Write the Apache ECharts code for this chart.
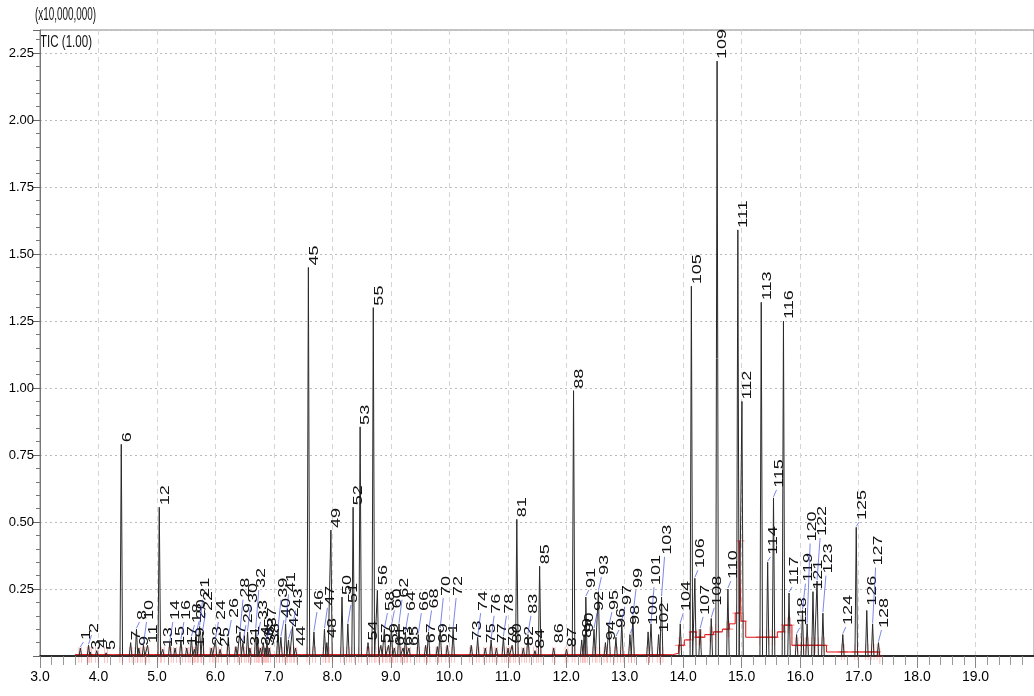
<!DOCTYPE html>
<html>
<head>
<meta charset="utf-8">
<script src="https://cdn.jsdelivr.net/npm/echarts@6/dist/echarts.min.js"></script>
<style>
  html, body { margin: 0; padding: 0; background: #fff; }
  #chart { width: 1034px; height: 696px; }
</style>
</head>
<body>
<div id="chart"></div>
<script>
// Total ion chromatogram: retention time (min) and apex intensity (x10,000,000) for peaks 1..128
const peakTime = [
  3.69, 3.83, 3.86, 3.97, 4.13, 4.39, 4.55, 4.65, 4.69, 4.77,
  4.84, 5.04, 5.10, 5.22, 5.31, 5.41, 5.51, 5.59, 5.64, 5.67,
  5.73, 5.78, 5.93, 6.00, 6.08, 6.22, 6.35, 6.42, 6.47, 6.55,
  6.59, 6.69, 6.72, 6.77, 6.82, 6.85, 6.88, 6.92, 7.07, 7.12,
  7.20, 7.25, 7.32, 7.37, 7.59, 7.685, 7.865, 7.905, 7.975, 8.165,
  8.265, 8.355, 8.475, 8.61, 8.70, 8.77, 8.83, 8.89, 8.96, 9.01,
  9.06, 9.14, 9.21, 9.25, 9.31, 9.47, 9.595, 9.645, 9.795, 9.845,
  9.965, 10.065, 10.375, 10.485, 10.615, 10.715, 10.805, 10.925, 11.005, 11.075,
  11.155, 11.265, 11.345, 11.465, 11.545, 11.785, 12.005, 12.125, 12.265, 12.305,
  12.335, 12.475, 12.55, 12.67, 12.73, 12.85, 12.95, 13.09, 13.14, 13.40,
  13.45, 13.58, 13.63, 13.95, 14.14, 14.20, 14.29, 14.48, 14.58, 14.765,
  14.935, 15.005, 15.335, 15.445, 15.545, 15.715, 15.81, 15.94, 16.04, 16.12,
  16.22, 16.29, 16.39, 16.73, 16.96, 17.14, 17.24, 17.34
];
const peakHeight = [
  0.030, 0.040, 0.015, 0.020, 0.012, 0.790, 0.050, 0.100, 0.030, 0.040,
  0.040, 0.555, 0.025, 0.050, 0.030, 0.060, 0.030, 0.070, 0.025, 0.080,
  0.110, 0.090, 0.030, 0.060, 0.025, 0.070, 0.035, 0.090, 0.050, 0.090,
  0.030, 0.100, 0.070, 0.030, 0.050, 0.030, 0.060, 0.030, 0.100, 0.070,
  0.120, 0.060, 0.110, 0.030, 1.450, 0.090, 0.100, 0.050, 0.470, 0.220,
  0.120, 0.555, 0.855, 0.050, 1.300, 0.245, 0.040, 0.100, 0.040, 0.110,
  0.030, 0.120, 0.030, 0.090, 0.030, 0.080, 0.040, 0.090, 0.035, 0.100,
  0.040, 0.100, 0.040, 0.070, 0.030, 0.060, 0.030, 0.070, 0.030, 0.040,
  0.510, 0.030, 0.080, 0.020, 0.335, 0.030, 0.025, 0.990, 0.060, 0.080,
  0.220, 0.100, 0.240, 0.050, 0.110, 0.070, 0.130, 0.080, 0.150, 0.090,
  0.120, 0.080, 0.220, 0.120, 1.380, 0.290, 0.100, 0.140, 2.220, 0.250,
  1.590, 0.950, 1.320, 0.350, 0.590, 1.250, 0.235, 0.080, 0.170, 0.120,
  0.240, 0.280, 0.160, 0.080, 0.480, 0.170, 0.120, 0.050
];
// Integration baseline (steps) under the late-eluting cluster
const baseTime  = [3.60, 13.82, 13.92, 14.02, 14.12, 14.22, 14.37, 14.52, 14.67, 14.79, 14.89, 14.96, 14.99, 15.07, 15.61, 15.72, 15.86, 16.35, 16.45, 17.35];
const baseLevel = [0.005, 0.010, 0.040, 0.060, 0.090, 0.070, 0.080, 0.090, 0.100, 0.120, 0.160, 0.430, 0.130, 0.070, 0.090, 0.115, 0.040, 0.040, 0.015, 0.000];

// Layout: height at which each peak number is written (null = right above the apex)
const labelBase = [
  0.052, 0.078, 0.015, 0.022, 0.015, null, 0.040, 0.127, 0.020, 0.127,
  0.030, null, 0.022, 0.127, 0.022, 0.127, 0.022, 0.115, 0.015, 0.130,
  0.210, 0.160, 0.022, 0.127, 0.022, 0.134, 0.030, 0.210, 0.115, 0.190,
  0.022, 0.246, 0.127, 0.030, 0.060, 0.020, 0.100, 0.040, 0.210, 0.134,
  0.230, 0.100, 0.170, 0.030, null, 0.164, 0.180, 0.060, null, 0.216,
  0.190, null, null, 0.030, null, 0.257, 0.022, 0.160, 0.030, 0.170,
  0.030, 0.210, 0.022, 0.160, 0.022, 0.160, 0.040, 0.170, 0.040, 0.216,
  0.040, 0.216, 0.050, 0.160, 0.040, 0.150, 0.040, 0.150, 0.020, 0.040,
  null, 0.020, 0.150, 0.020, null, 0.040, 0.020, null, 0.060, 0.070,
  0.246, 0.160, 0.295, 0.050, 0.164, 0.097, 0.183, 0.108, 0.246, 0.108,
  0.257, 0.078, 0.370, 0.160, null, 0.320, 0.146, 0.180, null, 0.280,
  null, null, null, 0.370, 0.620, null, 0.257, 0.105, 0.270, 0.420,
  0.160, 0.440, 0.300, 0.108, 0.500, 0.180, 0.330, 0.097
];

const X_MIN = 3, X_MAX = 20, Y_MAX = 2.336;
const HALF_WIDTH = 0.022; // drawn half-width of a peak at its foot (min)
const SANS = '"Liberation Sans", Arial, sans-serif';

// chromatogram trace, peaks in elution order
const order = peakTime.map((t, i) => i).sort((a, b) => peakTime[a] - peakTime[b]);
const trace = [[X_MIN, 0]];
order.forEach(i => {
  const t = peakTime[i];
  trace.push([t - HALF_WIDTH, 0], [t, peakHeight[i]], [t + HALF_WIDTH, 0]);
});
trace.push([X_MAX, 0]);

function baseAt(t) {
  let v = 0;
  for (let k = 0; k < baseTime.length; k++) if (baseTime[k] <= t) v = baseLevel[k];
  return v;
}
const marks = [];
peakTime.forEach(t => {
  marks.push([t - 0.024, baseAt(t - 0.024)]);
  marks.push([t + 0.024, baseAt(t + 0.024)]);
});
const baseLine = baseTime.map((t, k) => [t, baseLevel[k]]);

const tagData = peakTime.map((t, i) => [t, peakHeight[i], labelBase[i] == null ? peakHeight[i] : labelBase[i], i + 1]);

function renderTag(params, api) {
  const t = api.value(0), h = api.value(1);
  const b = Math.max(h, api.value(2));
  const top = api.coord([t, h]);
  const base = api.coord([t, b]);
  const kids = [];
  if (top[1] - base[1] > 5) {
    kids.push({
      type: 'line',
      shape: { x1: top[0], y1: top[1] - 1, x2: base[0] + 3, y2: base[1] },
      style: { stroke: '#2436d6', lineWidth: 0.8, opacity: 0.75 }
    });
  }
  kids.push({
    type: 'text',
    x: base[0] + 6,
    y: base[1] - 2,
    rotation: Math.PI / 2,
    scaleX: 1.5,
    style: {
      text: String(api.value(3)),
      fontSize: 12,
      fontFamily: SANS,
      fill: '#111',
      align: 'left',
      verticalAlign: 'middle'
    }
  });
  return { type: 'group', children: kids };
}

const chart = echarts.init(document.getElementById('chart'));
chart.setOption({
  animation: false,
  backgroundColor: '#fff',
  grid: { left: 40, right: 0, top: 30, bottom: 40, show: true, borderColor: '#888', borderWidth: 1 },
  graphic: [
    { type: 'text', x: 35, y: 6, scaleX: 0.55, style: { text: '(x10,000,000)', fontSize: 18, fontFamily: SANS, fill: '#111', align: 'left', verticalAlign: 'top' } },
    { type: 'text', x: 40, y: 34, scaleX: 0.68, style: { text: 'TIC (1.00)', fontSize: 17, fontFamily: SANS, fill: '#111', align: 'left', verticalAlign: 'top' } }
  ],
  xAxis: {
    type: 'value', min: X_MIN, max: X_MAX, interval: 1,
    axisLine: { lineStyle: { color: '#000', width: 1.5 } },
    axisTick: { length: 12, lineStyle: { color: '#888' } },
    minorTick: { show: true, splitNumber: 5, length: 9, lineStyle: { color: '#999' } },
    axisLabel: {
      formatter: v => v.toFixed(1), showMaxLabel: false, margin: 14,
      fontSize: 14, fontFamily: SANS, color: '#000'
    },
    splitLine: { show: true, lineStyle: { color: '#d4d4d4', type: [5, 4], width: 1 } }
  },
  yAxis: {
    type: 'value', min: 0, max: Y_MAX, interval: 0.25,
    axisLine: { show: true, lineStyle: { color: '#777' } },
    axisTick: { show: true, length: 7, lineStyle: { color: '#666' } },
    minorTick: { show: true, splitNumber: 5, length: 4, lineStyle: { color: '#777' } },
    axisLabel: {
      formatter: v => (v === 0 ? '' : v.toFixed(2)), showMaxLabel: false, margin: 6,
      fontSize: 13, fontFamily: SANS, color: '#000'
    },
    splitLine: { show: true, lineStyle: { color: '#bbb', type: [2, 3], width: 1 } }
  },
  series: [
    {
      name: 'integration marks', type: 'scatter', data: marks, z: 1,
      symbol: 'path://M-0.08,-1H0.08V-0.08H1V0.08H0.08V1H-0.08V0.08H-1V-0.08H-0.08Z',
      symbolSize: [8, 16],
      itemStyle: { color: 'rgba(235,20,20,0.5)' },
      silent: true
    },
    {
      name: 'baseline', type: 'line', data: baseLine, step: 'end', z: 2,
      showSymbol: false, lineStyle: { color: '#e01010', width: 1 }, silent: true
    },
    {
      name: 'TIC', type: 'line', data: trace, z: 3,
      showSymbol: false, lineStyle: { color: '#2a2a2a', width: 1 }, silent: true
    },
    {
      name: 'peak numbers', type: 'custom', data: tagData, z: 4,
      encode: { x: 0, y: 1 }, renderItem: renderTag, clip: false, silent: true
    }
  ]
});
</script>
</body>
</html>
